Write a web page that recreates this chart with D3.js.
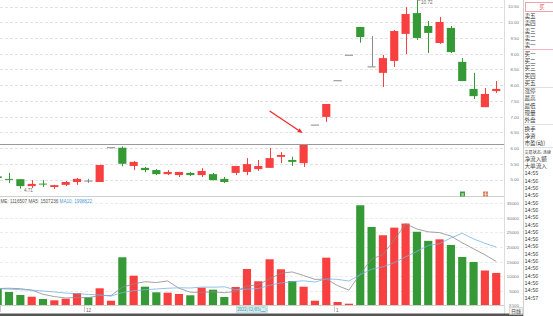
<!DOCTYPE html>
<html><head><meta charset="utf-8">
<script src="https://cdn.jsdelivr.net/npm/d3@7"></script>
<style>
body{margin:0;background:#fff;overflow:hidden}
svg{display:block}
text{font-family:"Liberation Sans",Arial,sans-serif}
.cjk{font-family:"Noto Sans CJK SC","Liberation Sans",sans-serif}
</style>
</head><body>
<svg id="c" width="553" height="316"></svg>
<script>
// ---------------- data ----------------
const opens  = [5.10,5.02,5.01,4.79,4.87,4.76,4.83,4.92,4.95,4.92,6.01,6.01,5.43,5.37,5.30,5.17,5.14,5.21,5.14,5.17,5.02,5.21,5.24,5.33,5.37,5.72,5.62,5.52,6.73,6.99,8.14,8.95,9.85,8.58,8.39,8.77,9.63,10.29,9.88,9.34,9.82,8.74,7.88,7.30,7.81];
const closes = [5.05,5.00,4.79,4.86,4.86,4.82,4.92,5.02,4.95,5.46,6.01,5.50,5.56,5.30,5.17,5.24,5.24,5.14,5.27,4.98,4.92,5.43,5.49,5.43,5.68,5.78,5.56,6.12,6.73,7.40,8.14,8.95,9.53,8.58,8.86,9.72,10.26,9.50,9.66,10.01,9.05,8.13,7.65,7.72,7.88];
const highs  = [5.16,5.21,5.01,4.98,4.98,4.83,4.95,5.05,5.02,5.47,6.01,6.05,5.59,5.40,5.33,5.30,5.24,5.24,5.36,5.21,5.08,5.43,5.68,5.62,6.00,5.87,5.72,6.12,6.73,7.40,8.14,8.95,9.85,9.56,8.96,9.75,10.48,10.72,10.04,10.17,9.88,8.86,8.39,7.91,8.13];
const lows   = [5.00,4.89,4.71,4.73,4.76,4.70,4.79,4.83,4.89,4.92,6.01,5.42,5.30,5.23,5.14,5.14,5.08,5.11,5.08,4.97,4.89,5.14,5.14,5.27,5.37,5.52,5.43,5.40,6.73,6.83,8.14,8.95,9.35,8.58,7.94,8.58,8.99,9.44,9.02,9.31,9.02,8.13,7.56,7.30,7.75];
const volumes = [5800,4670,3650,3070,2280,1840,2390,4330,2860,5930,1700,16500,10230,6480,4570,4430,3990,3550,6140,5460,2970,6380,12510,8320,15820,12410,8420,6480,1700,16370,1260,680,34230,26830,24000,26600,28000,25200,22100,22620,20700,16600,14900,11995,11165];
const ma5  = [5850,5950,5800,5300,3894,3102,2646,2782,2740,3470,3442,6264,7444,8168,7896,8442,5940,4604,4536,4714,4422,4900,6692,7128,9200,11088,11496,10290,8966,9076,6846,5298,10848,15874,17400,22468,27932,26126,25180,24904,23724,21444,19384,17363,15072];
const ma10 = [5800,5650,5450,5300,5000,4700,4300,4100,3850,3682,3272,4455,5113,5454,5683,5942,6102,6024,6352,6305,6432,5420,5648,5832,6957,7755,8198,8491,8047,9138,8967,8397,10569,12420,13238,14657,16615,18487,20527,21152,23096,24688,22755,21272,19988];
const priceTicks = [10.5,10,9.5,9,8.5,8,7.5,7,6.5,6,5.5,5];
const volTicks = [35000,30000,25000,20000,15000,10000,5000];
const monthTicks = [{i:8,label:"12"},{i:30,label:"1"}];
const crossDate = "2022/12/05(二)";
const legendParts = [{t:"ME: 1116507 MA5: 1507236 ",c:"#555"},{t:"MA10: 1998822",c:"#4a9ee0"}];
const highLabel = {i:37,text:"10.72"};
const lowLabel = {i:2,text:"4.71"};
const arrowAnno = {from:[24,7.18], to:[27,6.48]};
const sideSections = [
  ["卖五","卖四","卖三","卖二","卖一"],
  ["买一","买二","买三","买四","买五"],
  ["涨停","最高","最低","现量","外盘"],
  ["换手","净资","市盈(动)"],
  ["交易状态: 连续","净流入额","大单流入",
   "14:55","14:56","14:56","14:56","14:56","14:56","14:56","14:56","14:56","14:56","14:56",
   "14:56","14:56","14:56","14:56","14:56","14:56","14:57"]
];

// ---------------- drawing ----------------
const RED="#f84040", GREEN="#359a35", GREY="#8a8a8a";
const svg=d3.select("#c");
svg.append("rect").attr("width",553).attr("height",316).attr("fill","#fff");
const n=opens.length;
const x=d3.scaleBand().domain(d3.range(n)).range([-7.965,501.885]).paddingInner(0.28).paddingOuter(0.14);
const bw=x.bandwidth();
const xc=i=>x(i)+bw/2;
const y=d3.scaleLinear().domain([5,10.5]).range([179.5,6.5]);
const yv=d3.scaleLinear().domain([0,35000]).range([305.7,203]);

svg.append("defs").append("clipPath").attr("id","clip").append("rect").attr("x",0).attr("y",0).attr("width",504).attr("height",316);
const g=svg.append("g").attr("clip-path","url(#clip)");

// grid lines
g.selectAll(".pg").data(priceTicks).join("line")
  .attr("x1",0).attr("x2",504).attr("y1",d=>Math.round(y(d))+0.5).attr("y2",d=>Math.round(y(d))+0.5)
  .attr("stroke","#e2e2e2").attr("stroke-dasharray","3,2");
g.selectAll(".vg").data(volTicks).join("line")
  .attr("x1",0).attr("x2",504).attr("y1",d=>Math.round(yv(d))+0.5).attr("y2",d=>Math.round(yv(d))+0.5)
  .attr("stroke","#ececec").attr("stroke-dasharray","3,2");

// panel lines
svg.append("line").attr("x1",0).attr("x2",504).attr("y1",144.5).attr("y2",144.5).attr("stroke","#9a9a9a");
svg.append("line").attr("x1",0).attr("x2",504).attr("y1",196.5).attr("y2",196.5).attr("stroke","#cfcfcf");
svg.append("line").attr("x1",0).attr("x2",504).attr("y1",305.5).attr("y2",305.5).attr("stroke","#cfcfcf");
svg.append("line").attr("x1",504.5).attr("x2",504.5).attr("y1",0).attr("y2",316).attr("stroke","#dcdcdc");
svg.append("line").attr("x1",523.5).attr("x2",523.5).attr("y1",0).attr("y2",316).attr("stroke","#cfcfcf");

// candles
const idx=d3.range(n);
const col=i=>closes[i]>opens[i]?RED:closes[i]<opens[i]?GREEN:GREY;
g.selectAll(".wick").data(idx.filter(i=>highs[i]!==lows[i])).join("line")
  .attr("x1",i=>Math.round(xc(i))+0.5).attr("x2",i=>Math.round(xc(i))+0.5)
  .attr("y1",i=>y(highs[i])).attr("y2",i=>y(lows[i]))
  .attr("stroke",col).attr("stroke-width",1);
g.selectAll(".body").data(idx).join("rect")
  .attr("x",i=>x(i)).attr("width",bw)
  .attr("y",i=>y(Math.max(opens[i],closes[i]))-(opens[i]===closes[i]?0.5:0))
  .attr("height",i=>Math.max(1,Math.abs(y(opens[i])-y(closes[i]))))
  .attr("fill",col);

// high / low labels
{
  const i=highLabel.i, hx=Math.round(xc(i))+0.5, hy=y(highs[i])+1;
  svg.append("path").attr("d",`M${hx},${hy+2}V${hy}H${hx+3}`).attr("fill","none").attr("stroke","#777").attr("stroke-width",0.6);
  svg.append("text").attr("x",hx+3.5).attr("y",hy+3).attr("font-size",4.6).attr("fill","#666").text(highLabel.text);
  const j=lowLabel.i, lx=xc(j), ly=y(lows[j])+1.5;
  svg.append("text").attr("x",lx-1).attr("y",ly+1.7).attr("font-size",4.6).attr("fill","#666").text("←"+lowLabel.text);
}

// arrow annotation
{
  const x1=xc(arrowAnno.from[0]), y1=y(arrowAnno.from[1]);
  const x2=xc(arrowAnno.to[0])-1, y2=y(arrowAnno.to[1]);
  const a=Math.atan2(y2-y1,x2-x1), L=5, w=2.2;
  const bx=x2-L*Math.cos(a), by=y2-L*Math.sin(a);
  svg.append("line").attr("x1",x1).attr("y1",y1).attr("x2",bx).attr("y2",by).attr("stroke","#f02a2a").attr("stroke-width",1.3);
  svg.append("path").attr("d",`M${x2},${y2}L${bx+w*Math.sin(a)},${by-w*Math.cos(a)}L${bx-w*Math.sin(a)},${by+w*Math.cos(a)}Z`).attr("fill","#f02a2a");
}

// small markers
svg.append("rect").attr("x",460).attr("y",191.5).attr("width",5).attr("height",5).attr("fill","#3a9a3a");
svg.append("text").attr("x",462.5).attr("y",195.6).attr("font-size",4).attr("fill","#fff").attr("text-anchor","middle").text("B");
svg.append("rect").attr("x",483).attr("y",191.5).attr("width",5).attr("height",5).attr("fill","#d9825a");
svg.append("path").attr("d","M485.5,192V196.5M483,194.2H488").attr("stroke","#fff").attr("stroke-width",0.5);

// volume bars
const vcol=i=>closes[i]>opens[i]?RED:closes[i]<opens[i]?GREEN:(i>0&&closes[i]<closes[i-1]?GREEN:RED);
g.selectAll(".vb").data(idx).join("rect")
  .attr("x",i=>x(i)).attr("width",bw)
  .attr("y",i=>yv(volumes[i])).attr("height",i=>yv(0)-yv(volumes[i]))
  .attr("fill",vcol);

// MA lines
const line=d3.line().x((d,i)=>xc(i)).y(d=>yv(d));
g.append("path").datum(ma5).attr("d",line).attr("fill","none").attr("stroke","#8c8c8c").attr("stroke-width",0.8);
g.append("path").datum(ma10).attr("d",line).attr("fill","none").attr("stroke","#74b4e6").attr("stroke-width",0.8);

// legend
{
  const t=svg.append("text").attr("x",0.5).attr("y",203).attr("font-size",4.6);
  legendParts.forEach(p=>t.append("tspan").attr("fill",p.c).text(p.t));
}

// axes
const pa=svg.append("g").attr("transform","translate(519,0)")
  .call(d3.axisLeft(y).tickValues(priceTicks).tickFormat(d3.format(".2f")).tickSize(0).tickPadding(0));
const va=svg.append("g").attr("transform","translate(519,0)")
  .call(d3.axisLeft(yv).tickValues(volTicks).tickFormat(d3.format("d")).tickSize(0).tickPadding(0));
[pa,va].forEach(a=>{a.select(".domain").remove();a.selectAll("text").attr("font-size",4.4).attr("fill","#777").attr("font-family","Liberation Sans,Arial,sans-serif");});
svg.append("text").attr("x",519).attr("y",yv(0)+1.5).attr("text-anchor","end").attr("font-size",4.4).attr("fill","#777").text("X100");

// month ticks
monthTicks.forEach(m=>{
  const mx=Math.round(x(m.i))+0.5;
  svg.append("line").attr("x1",mx).attr("x2",mx).attr("y1",306).attr("y2",312).attr("stroke","#aaa").attr("stroke-width",0.6);
  svg.append("text").attr("x",mx+1.5).attr("y",311.5).attr("font-size",4.6).attr("fill","#666").text(m.label);
});
svg.append("line").attr("x1",0.5).attr("x2",0.5).attr("y1",306).attr("y2",312).attr("stroke","#aaa").attr("stroke-width",0.6);

// crosshair date box
svg.append("rect").attr("x",236.5).attr("y",306.5).attr("width",31).attr("height",6).attr("fill","#d4eef0").attr("stroke","#9fd1d6").attr("stroke-width",0.5);
svg.append("text").attr("class","cjk").attr("x",252).attr("y",311.4).attr("text-anchor","middle").attr("font-size",4.3).attr("fill","#3f8a93").text(crossDate);

// bottom band
svg.append("rect").attr("x",0).attr("y",313.5).attr("width",523).attr("height",2.5).attr("fill","#555");

// right side panel
svg.append("rect").attr("x",525.5).attr("y",2.5).attr("width",28).attr("height",9).attr("fill","#fff").attr("stroke","#f08a9a").attr("stroke-width",0.8);
svg.append("text").attr("class","cjk").attr("x",542).attr("y",9.2).attr("text-anchor","middle").attr("font-size",5.5).attr("fill","#e8505a").text("买");
{
  let yy=16; const step=7.3, gap=1;
  sideSections.forEach((sec,si)=>{
    sec.forEach(s=>{
      let fs=5.6;
      const t=svg.append("text").attr("class","cjk").attr("x",524.5).attr("y",yy+2.1).attr("font-size",fs).attr("fill","#3a3a3a").text(s);
      while(524.5+t.node().getComputedTextLength()>551.5 && fs>2){fs-=0.1;t.attr("font-size",fs);}
      yy+=step;
    });
    if(si<sideSections.length-1){
      const ly=Math.round(yy-step/2+gap/2-0.3)+0.5;
      svg.append("line").attr("x1",524).attr("x2",553).attr("y1",ly).attr("y2",ly).attr("stroke",si===0?"#f4a0b0":"#d8d8d8").attr("stroke-width",0.8);
      yy+=gap;
    }
  });
}
svg.append("rect").attr("x",509.5).attr("y",307.5).attr("width",13).attr("height",7).attr("fill","#f4f4f4").attr("stroke","#bbb").attr("stroke-width",0.5);
svg.append("text").attr("class","cjk").attr("x",516).attr("y",313).attr("text-anchor","middle").attr("font-size",5).attr("fill","#444").text("日线");
</script>
</body></html>
